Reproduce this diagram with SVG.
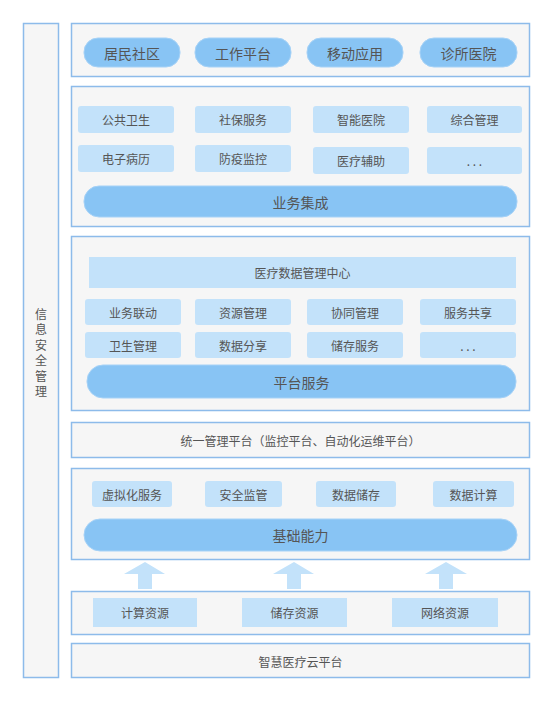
<svg xmlns="http://www.w3.org/2000/svg" width="553" height="702" viewBox="0 0 553 702">
<style>
.panel{fill:#f6f6f6;stroke:#8dbbea;stroke-width:1.5}
.btn{fill:#88c4f4;stroke:#a6d2f7;stroke-width:1}
.item{fill:#c3e2fa}
.t{font-family:"Noto Sans CJK SC","Noto Sans",sans-serif;fill:#555;text-anchor:middle;dominant-baseline:central}
.s12{font-size:12px}
.s13{font-size:13px}
.s14{font-size:14px}
.arrow{fill:#c3e2fa}
</style>
<rect width="553" height="702" fill="#fff"/>
<g id="security">
<rect class="panel" x="23.5" y="23.5" width="35" height="654"/>
<text class="t s12" x="41" y="313">信</text>
<text class="t s12" x="41" y="328.5">息</text>
<text class="t s12" x="41" y="344">安</text>
<text class="t s12" x="41" y="359.5">全</text>
<text class="t s12" x="41" y="375">管</text>
<text class="t s12" x="41" y="390.5">理</text>
</g>
<g id="layer-apps">
<rect class="panel" x="71.5" y="23.5" width="458" height="53"/>
<rect class="btn" x="84" y="38" width="96" height="29" rx="14"/>
<text class="t s14" x="132" y="52.5">居民社区</text>
<rect class="btn" x="195" y="38" width="96" height="29" rx="14"/>
<text class="t s14" x="243" y="52.5">工作平台</text>
<rect class="btn" x="307" y="38" width="96" height="29" rx="14"/>
<text class="t s14" x="355" y="52.5">移动应用</text>
<rect class="btn" x="420" y="38" width="97" height="29" rx="14"/>
<text class="t s14" x="468.5" y="52.5">诊所医院</text>
</g>
<g id="layer-business">
<rect class="panel" x="71.5" y="86.5" width="458" height="140"/>
<rect class="item" x="78" y="106" width="96" height="27" rx="3"/>
<text class="t s12" x="126" y="119.5">公共卫生</text>
<rect class="item" x="195" y="106" width="96" height="27" rx="3"/>
<text class="t s12" x="243" y="119.5">社保服务</text>
<rect class="item" x="313" y="106" width="96" height="27" rx="3"/>
<text class="t s12" x="361" y="119.5">智能医院</text>
<rect class="item" x="427" y="106" width="95" height="27" rx="3"/>
<text class="t s12" x="474.5" y="119.5">综合管理</text>
<rect class="item" x="78" y="145" width="96" height="27" rx="3"/>
<text class="t s12" x="126" y="158.5">电子病历</text>
<rect class="item" x="195" y="145" width="96" height="27" rx="3"/>
<text class="t s12" x="243" y="158.5">防疫监控</text>
<rect class="item" x="313" y="147" width="96" height="27" rx="3"/>
<text class="t s12" x="361" y="160.5">医疗辅助</text>
<rect class="item" x="427" y="147" width="95" height="27" rx="3"/>
<text class="t s12" x="474.5" y="160.5">. . .</text>
<rect class="btn" x="84" y="186" width="433" height="31" rx="15"/>
<text class="t s14" x="300.5" y="201.5">业务集成</text>
</g>
<g id="layer-platform">
<rect class="panel" x="71.5" y="236.5" width="458" height="174"/>
<rect class="item" x="89" y="257" width="427" height="31"/>
<text class="t s12" x="302.5" y="272.5">医疗数据管理中心</text>
<rect class="item" x="85" y="299" width="96" height="26" rx="3"/>
<text class="t s12" x="133" y="312">业务联动</text>
<rect class="item" x="195" y="299" width="96" height="26" rx="3"/>
<text class="t s12" x="243" y="312">资源管理</text>
<rect class="item" x="307" y="299" width="96" height="26" rx="3"/>
<text class="t s12" x="355" y="312">协同管理</text>
<rect class="item" x="420" y="299" width="96" height="26" rx="3"/>
<text class="t s12" x="468" y="312">服务共享</text>
<rect class="item" x="85" y="332" width="96" height="26" rx="3"/>
<text class="t s12" x="133" y="345">卫生管理</text>
<rect class="item" x="195" y="332" width="96" height="26" rx="3"/>
<text class="t s12" x="243" y="345">数据分享</text>
<rect class="item" x="307" y="332" width="96" height="26" rx="3"/>
<text class="t s12" x="355" y="345">储存服务</text>
<rect class="item" x="420" y="332" width="96" height="26" rx="3"/>
<text class="t s12" x="468" y="345">. . .</text>
<rect class="btn" x="87" y="365" width="429" height="33" rx="16"/>
<text class="t s14" x="301.5" y="381.5">平台服务</text>
</g>
<g id="layer-management">
<rect class="panel" x="71.5" y="422.5" width="458" height="35"/>
<text class="t s12" x="300.5" y="440">统一管理平台（监控平台、自动化运维平台）</text>
</g>
<g id="layer-infra">
<rect class="panel" x="71.5" y="468.5" width="458" height="91"/>
<rect class="item" x="92" y="481" width="80" height="26" rx="3"/>
<text class="t s12" x="132" y="494">虚拟化服务</text>
<rect class="item" x="205" y="481" width="77" height="26" rx="3"/>
<text class="t s12" x="243.5" y="494">安全监管</text>
<rect class="item" x="316" y="481" width="80" height="26" rx="3"/>
<text class="t s12" x="356" y="494">数据储存</text>
<rect class="item" x="433" y="481" width="81" height="26" rx="3"/>
<text class="t s12" x="473.5" y="494">数据计算</text>
<rect class="btn" x="84" y="519" width="433" height="32" rx="16"/>
<text class="t s14" x="300.5" y="535">基础能力</text>
</g>
<g id="connectors">
<polygon class="arrow" points="145,562 165,574 152,574 152,589 138,589 138,574 124,574"/>
<polygon class="arrow" points="294,562 314,574 301,574 301,589 287,589 287,574 273,574"/>
<polygon class="arrow" points="446,562 467,574 453,574 453,589 439,589 439,574 425,574"/>
</g>
<g id="layer-resources">
<rect class="panel" x="71.5" y="591.5" width="458" height="43"/>
<rect class="item" x="93" y="598" width="104" height="29"/>
<text class="t s12" x="145" y="612.5">计算资源</text>
<rect class="item" x="242" y="598" width="105" height="29"/>
<text class="t s12" x="294.5" y="612.5">储存资源</text>
<rect class="item" x="392" y="598" width="106" height="29"/>
<text class="t s12" x="445" y="612.5">网络资源</text>
</g>
<g id="layer-cloud">
<rect class="panel" x="71.5" y="643.5" width="458" height="34"/>
<text class="t s12" x="300.5" y="661">智慧医疗云平台</text>
</g>
</svg>
